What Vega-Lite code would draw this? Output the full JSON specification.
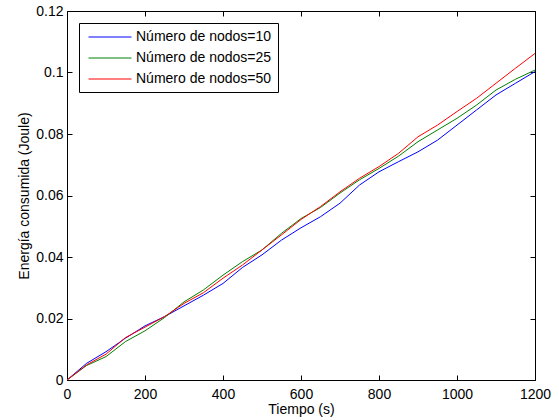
{
  "$schema": "https://vega.github.io/schema/vega-lite/v6.json",
  "width": 468,
  "height": 369,
  "autosize": {"type": "none"},
  "padding": {"left": 67, "top": 11, "right": 24, "bottom": 40},
  "background": "white",
  "config": {
    "view": {"stroke": null},
    "font": "Liberation Sans",
    "axis": {
      "grid": false,
      "domainColor": "black",
      "domainWidth": 1,
      "tickColor": "black",
      "tickWidth": 1,
      "tickSize": -5,
      "labelColor": "black",
      "labelFont": "Liberation Sans",
      "labelFontSize": 14,
      "titleFont": "Liberation Sans",
      "titleFontSize": 14,
      "titleFontWeight": "normal",
      "titleColor": "black"
    },
    "legend": {
      "strokeWidth": 1
    }
  },
  "data": {
    "values": [
      {"t": 0, "E": 0, "serie": "Número de nodos=10"},
      {"t": 50, "E": 0.0054, "serie": "Número de nodos=10"},
      {"t": 100, "E": 0.0092, "serie": "Número de nodos=10"},
      {"t": 150, "E": 0.0136, "serie": "Número de nodos=10"},
      {"t": 200, "E": 0.0176, "serie": "Número de nodos=10"},
      {"t": 250, "E": 0.0206, "serie": "Número de nodos=10"},
      {"t": 300, "E": 0.0241, "serie": "Número de nodos=10"},
      {"t": 350, "E": 0.0276, "serie": "Número de nodos=10"},
      {"t": 400, "E": 0.0314, "serie": "Número de nodos=10"},
      {"t": 450, "E": 0.0366, "serie": "Número de nodos=10"},
      {"t": 500, "E": 0.0407, "serie": "Número de nodos=10"},
      {"t": 550, "E": 0.0455, "serie": "Número de nodos=10"},
      {"t": 600, "E": 0.0495, "serie": "Número de nodos=10"},
      {"t": 650, "E": 0.0531, "serie": "Número de nodos=10"},
      {"t": 700, "E": 0.0575, "serie": "Número de nodos=10"},
      {"t": 750, "E": 0.0634, "serie": "Número de nodos=10"},
      {"t": 800, "E": 0.0677, "serie": "Número de nodos=10"},
      {"t": 850, "E": 0.0710, "serie": "Número de nodos=10"},
      {"t": 900, "E": 0.0742, "serie": "Número de nodos=10"},
      {"t": 950, "E": 0.0780, "serie": "Número de nodos=10"},
      {"t": 1000, "E": 0.0829, "serie": "Número de nodos=10"},
      {"t": 1050, "E": 0.0878, "serie": "Número de nodos=10"},
      {"t": 1100, "E": 0.0927, "serie": "Número de nodos=10"},
      {"t": 1150, "E": 0.0965, "serie": "Número de nodos=10"},
      {"t": 1200, "E": 0.1003, "serie": "Número de nodos=10"},
      {"t": 0, "E": 0, "serie": "Número de nodos=25"},
      {"t": 50, "E": 0.0047, "serie": "Número de nodos=25"},
      {"t": 100, "E": 0.0076, "serie": "Número de nodos=25"},
      {"t": 150, "E": 0.0125, "serie": "Número de nodos=25"},
      {"t": 200, "E": 0.0160, "serie": "Número de nodos=25"},
      {"t": 250, "E": 0.0203, "serie": "Número de nodos=25"},
      {"t": 300, "E": 0.0254, "serie": "Número de nodos=25"},
      {"t": 350, "E": 0.0293, "serie": "Número de nodos=25"},
      {"t": 400, "E": 0.0341, "serie": "Número de nodos=25"},
      {"t": 450, "E": 0.0385, "serie": "Número de nodos=25"},
      {"t": 500, "E": 0.0423, "serie": "Número de nodos=25"},
      {"t": 550, "E": 0.0477, "serie": "Número de nodos=25"},
      {"t": 600, "E": 0.0525, "serie": "Número de nodos=25"},
      {"t": 650, "E": 0.0561, "serie": "Número de nodos=25"},
      {"t": 700, "E": 0.0608, "serie": "Número de nodos=25"},
      {"t": 750, "E": 0.0651, "serie": "Número de nodos=25"},
      {"t": 800, "E": 0.0688, "serie": "Número de nodos=25"},
      {"t": 850, "E": 0.0728, "serie": "Número de nodos=25"},
      {"t": 900, "E": 0.0775, "serie": "Número de nodos=25"},
      {"t": 950, "E": 0.0813, "serie": "Número de nodos=25"},
      {"t": 1000, "E": 0.0851, "serie": "Número de nodos=25"},
      {"t": 1050, "E": 0.0894, "serie": "Número de nodos=25"},
      {"t": 1100, "E": 0.0943, "serie": "Número de nodos=25"},
      {"t": 1150, "E": 0.0978, "serie": "Número de nodos=25"},
      {"t": 1200, "E": 0.1008, "serie": "Número de nodos=25"},
      {"t": 0, "E": 0, "serie": "Número de nodos=50"},
      {"t": 50, "E": 0.0049, "serie": "Número de nodos=50"},
      {"t": 100, "E": 0.0084, "serie": "Número de nodos=50"},
      {"t": 150, "E": 0.0138, "serie": "Número de nodos=50"},
      {"t": 200, "E": 0.0172, "serie": "Número de nodos=50"},
      {"t": 250, "E": 0.0206, "serie": "Número de nodos=50"},
      {"t": 300, "E": 0.0249, "serie": "Número de nodos=50"},
      {"t": 350, "E": 0.0284, "serie": "Número de nodos=50"},
      {"t": 400, "E": 0.0331, "serie": "Número de nodos=50"},
      {"t": 450, "E": 0.0374, "serie": "Número de nodos=50"},
      {"t": 500, "E": 0.0423, "serie": "Número de nodos=50"},
      {"t": 550, "E": 0.0472, "serie": "Número de nodos=50"},
      {"t": 600, "E": 0.0522, "serie": "Número de nodos=50"},
      {"t": 650, "E": 0.0564, "serie": "Número de nodos=50"},
      {"t": 700, "E": 0.0612, "serie": "Número de nodos=50"},
      {"t": 750, "E": 0.0656, "serie": "Número de nodos=50"},
      {"t": 800, "E": 0.0694, "serie": "Número de nodos=50"},
      {"t": 850, "E": 0.0737, "serie": "Número de nodos=50"},
      {"t": 900, "E": 0.0791, "serie": "Número de nodos=50"},
      {"t": 950, "E": 0.0829, "serie": "Número de nodos=50"},
      {"t": 1000, "E": 0.0873, "serie": "Número de nodos=50"},
      {"t": 1050, "E": 0.0916, "serie": "Número de nodos=50"},
      {"t": 1100, "E": 0.0965, "serie": "Número de nodos=50"},
      {"t": 1150, "E": 0.1014, "serie": "Número de nodos=50"},
      {"t": 1200, "E": 0.1062, "serie": "Número de nodos=50"}
    ]
  },
  "layer": [
    {
      "mark": {"type": "line", "strokeWidth": 1, "clip": true},
      "encoding": {
        "x": {
          "field": "t", "type": "quantitative",
          "scale": {"domain": [0, 1200], "nice": false, "zero": false},
          "axis": {"orient": "bottom", "title": "Tiempo (s)", "values": [0, 200, 400, 600, 800, 1000, 1200], "format": "d", "labelPadding": 12, "titlePadding": 1, "labelFlush": false}
        },
        "y": {
          "field": "E", "type": "quantitative",
          "scale": {"domain": [0, 0.12], "nice": false},
          "axis": {"orient": "left", "title": "Energía consumida (Joule)", "values": [0, 0.02, 0.04, 0.06, 0.08, 0.1, 0.12], "format": ".2~f", "labelPadding": 9, "titlePadding": 4, "labelFlush": false}
        },
        "color": {
          "field": "serie", "type": "nominal",
          "scale": {"domain": ["Número de nodos=10", "Número de nodos=25", "Número de nodos=50"], "range": ["#0000ff", "#008000", "#ff0000"]},
          "legend": {
            "title": null,
            "orient": "none",
            "legendX": 12,
            "legendY": 12,
            "fillColor": "white",
            "strokeColor": "black",
            "padding": 6,
            "symbolType": "M-3,0H3",
            "symbolSize": 205,
            "symbolStrokeWidth": 1,
            "symbolOffset": 17,
            "labelOffset": 18,
            "labelFont": "Liberation Sans",
            "labelFontSize": 14,
            "labelColor": "black",
            "labelLimit": 300,
            "rowPadding": 6
          }
        }
      }
    },
    {
      "mark": {"type": "line", "opacity": 0},
      "encoding": {
        "x": {
          "field": "t", "type": "quantitative",
          "axis": {"orient": "top", "title": null, "labels": false, "values": [0, 200, 400, 600, 800, 1000, 1200]}
        },
        "y": {
          "field": "E", "type": "quantitative",
          "axis": {"orient": "right", "title": null, "labels": false, "values": [0, 0.02, 0.04, 0.06, 0.08, 0.1, 0.12]}
        },
        "detail": {"field": "serie"}
      }
    }
  ],
  "resolve": {"axis": {"x": "independent", "y": "independent"}}
}
